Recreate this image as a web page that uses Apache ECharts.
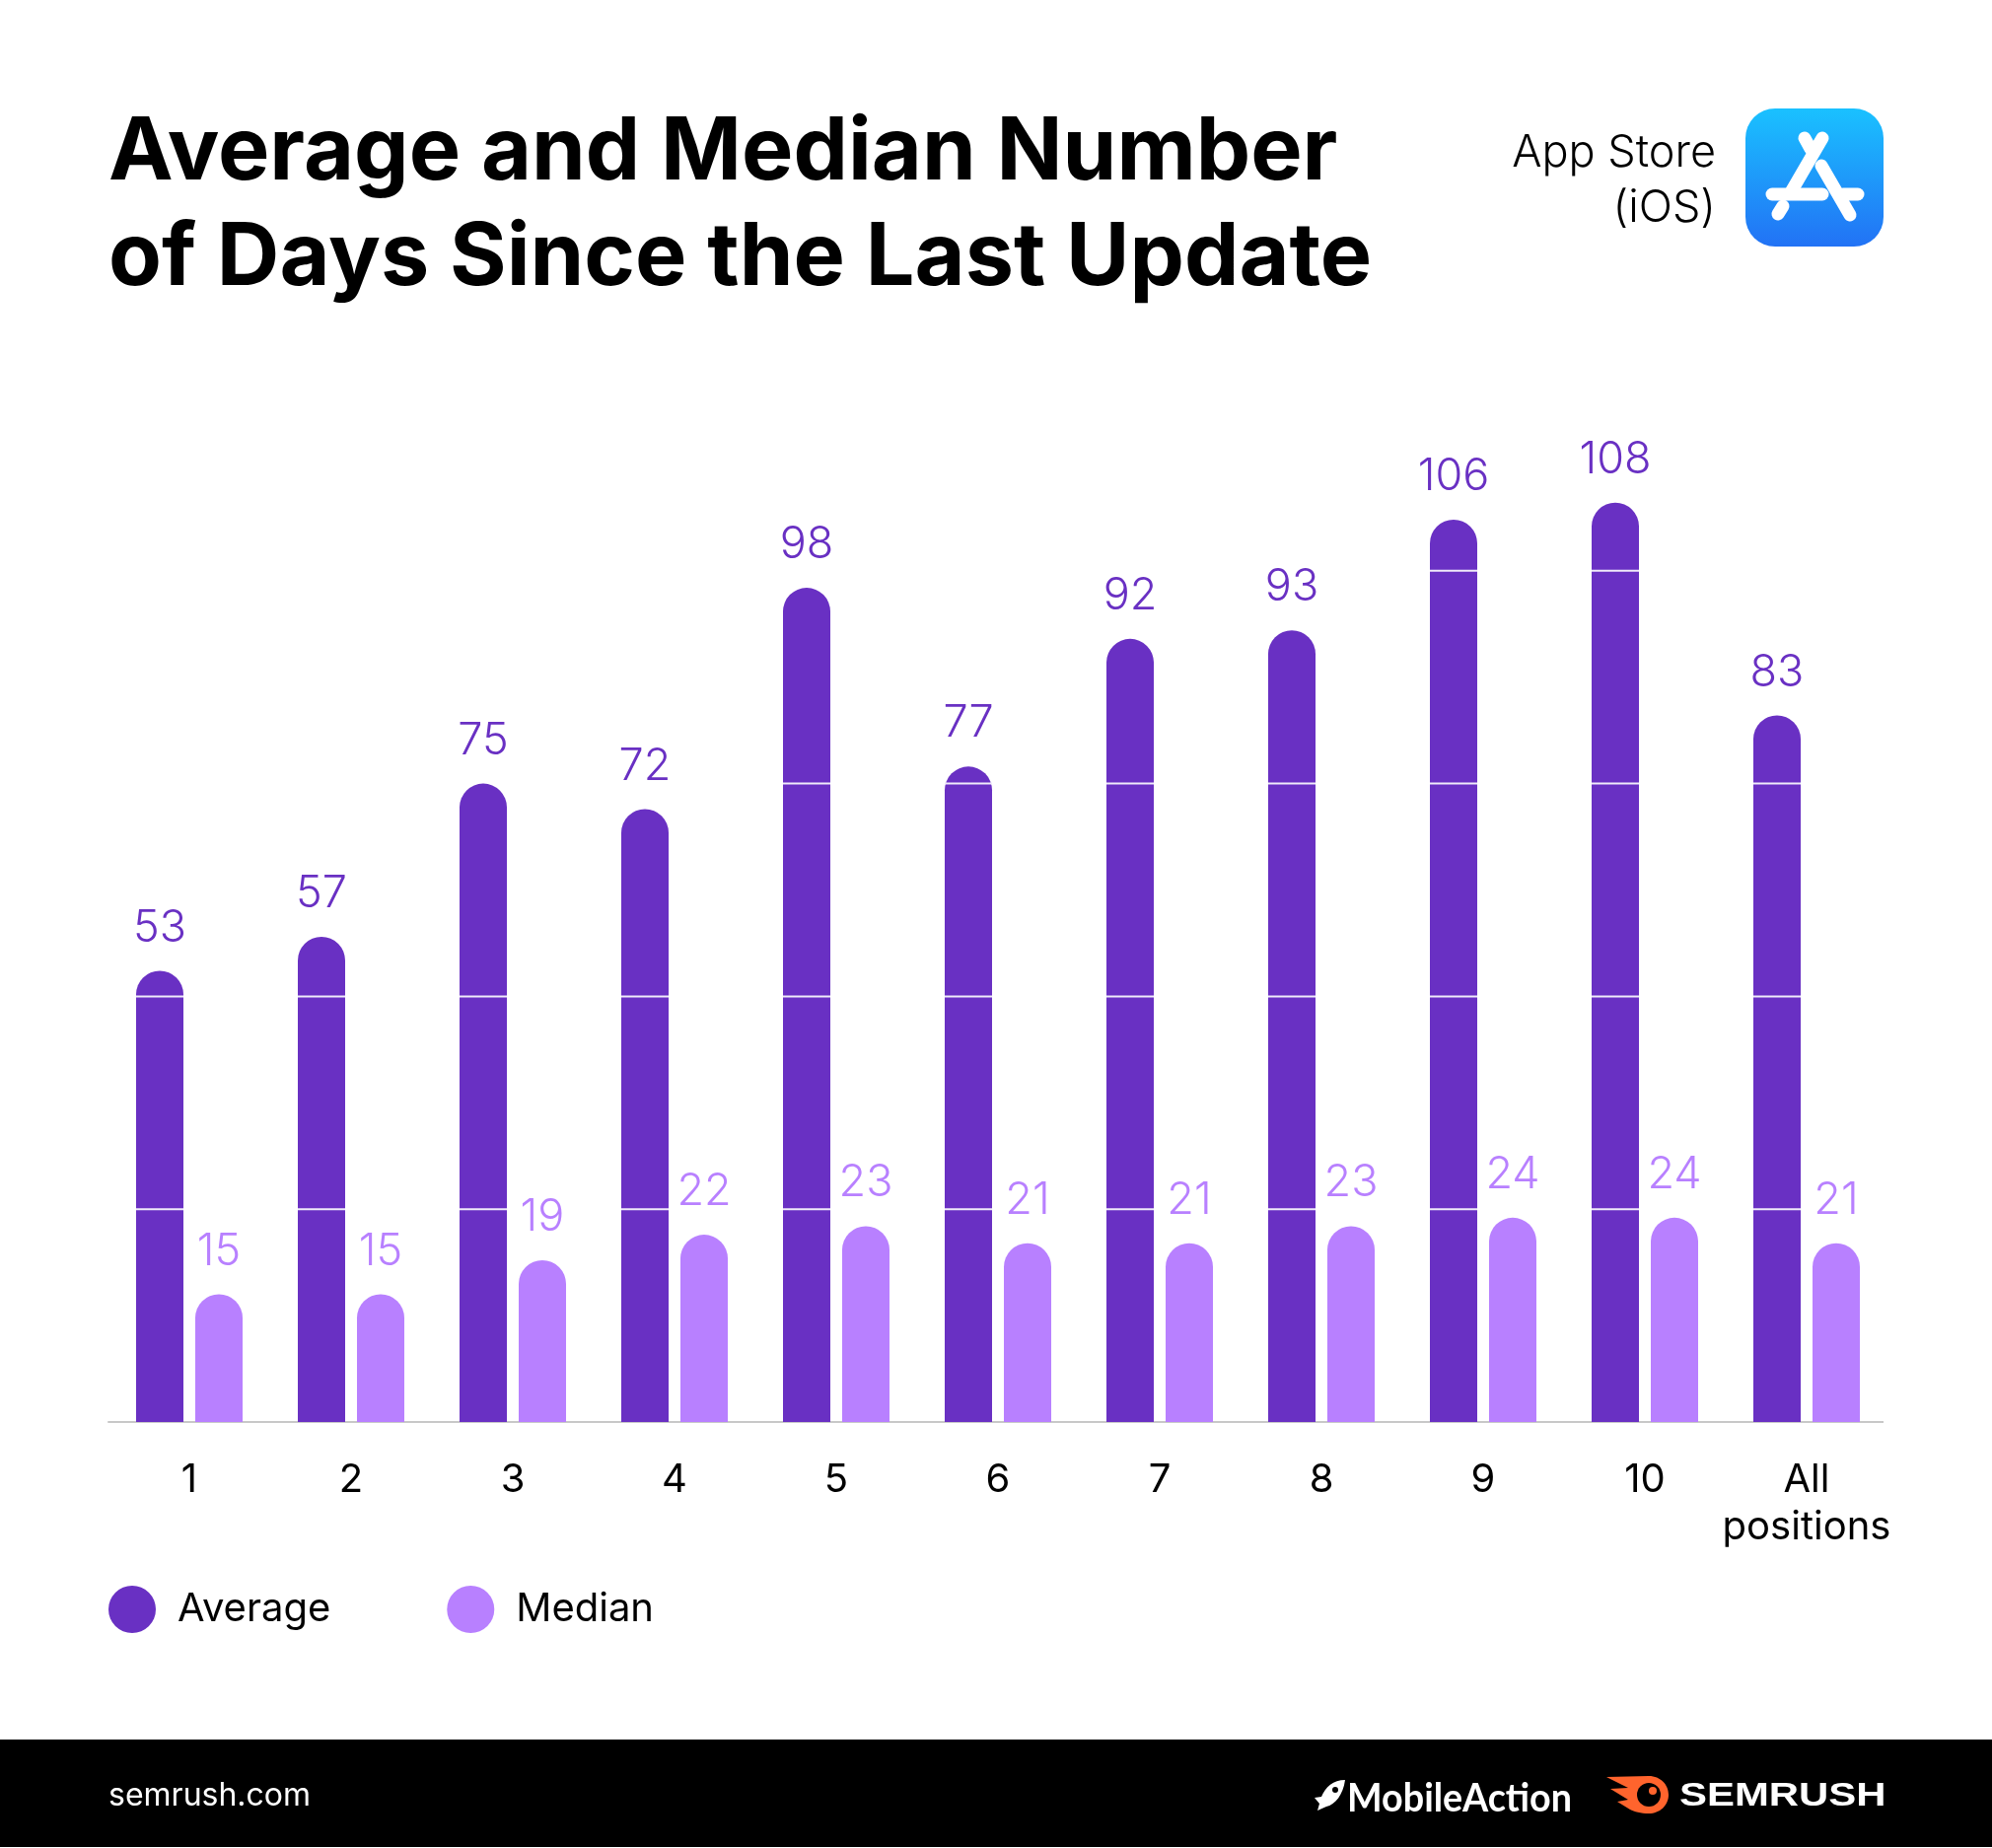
<!DOCTYPE html>
<html>
<head>
<meta charset="UTF-8">
<title>Average and Median Number of Days Since the Last Update</title>
<script src="https://cdn.jsdelivr.net/npm/echarts@6/dist/echarts.min.js"></script>
<style>
  html, body { margin: 0; padding: 0; background: #fff; }
  #main { width: 2020px; height: 1874px; }
</style>
</head>
<body>
<div id="main"></div>
<script>
// data
var categories = ['1', '2', '3', '4', '5', '6', '7', '8', '9', '10', 'All\npositions'];
var averageDays = [53, 57, 75, 72, 98, 77, 92, 93, 106, 108, 83];
var medianDays = [15, 15, 19, 22, 23, 21, 21, 23, 24, 24, 21];
var gridValues = [25, 50, 75, 100];

var PURPLE = '#6930c3';
var LILAC = '#b880ff';
var FONT = 'Inter, "Noto Sans", sans-serif';

// logo outlines, graphic has no plain "path" type so register them
echarts.graphic.registerShape('rocketLogo', echarts.graphic.extendPath(
    'M1364 1805 C1352 1805 1344 1812 1340 1822 L1333 1823 L1338 1829 L1336 1836 L1345 1832 C1354 1830 1362 1820 1364 1805 Z'
));
echarts.graphic.registerShape('flameLogo', echarts.graphic.extendPath(
    'M1629 1802 L1672 1801 C1684 1801 1692 1810 1692 1820 C1692 1831 1683 1839 1672 1839 C1664 1839 1657 1837 1653 1835 L1640 1827 L1651 1825 L1633 1814 L1651 1813 Z'
));

// white hairlines that only cross the Average bars
function renderBarLines(params, api) {
    var idx = api.value(0);
    var val = api.value(1);
    var children = [];
    for (var i = 0; i < gridValues.length; i++) {
        if (gridValues[i] >= val) continue;
        var p = api.coord([idx, gridValues[i]]);
        children.push({
            type: 'rect',
            shape: { x: p[0] - 54, y: p[1] - 1, width: 48, height: 2 },
            style: { fill: '#f0eafa' }
        });
    }
    return { type: 'group', children: children };
}

// icon strokes, in page pixels
function iconStroke(x1, y1, x2, y2) {
    return {
        type: 'line',
        shape: { x1: x1, y1: y1, x2: x2, y2: y2 },
        style: { stroke: '#fff', lineWidth: 13, lineCap: 'round' },
        z: 11
    };
}

var chart = echarts.init(document.getElementById('main'));
chart.setOption({
    animation: false,
    backgroundColor: '#fff',
    title: {
        text: 'Average and Median Number\nof Days Since the Last Update',
        left: 105,
        top: 97,
        textStyle: { fontFamily: FONT, fontSize: 88, fontWeight: 700, color: '#000', lineHeight: 107 }
    },
    legend: {
        left: 110,
        top: 1608,
        padding: 0,
        data: ['Average', 'Median'],
        icon: 'circle',
        itemWidth: 48,
        itemHeight: 48,
        itemGap: 118,
        textStyle: { fontFamily: FONT, fontSize: 40, color: '#000', padding: [0, 0, 0, 17] }
    },
    grid: { left: 110, top: 363, width: 1804, height: 1079 },
    xAxis: {
        type: 'category',
        data: categories,
        axisTick: { show: false },
        axisLine: { lineStyle: { color: '#c8c8c8', width: 2 } },
        axisLabel: { interval: 0, margin: 35, fontFamily: FONT, fontSize: 40, lineHeight: 48, color: '#000' }
    },
    yAxis: {
        type: 'value',
        min: 0,
        max: 125,
        interval: 25,
        show: false
    },
    series: [
        {
            name: 'Average',
            type: 'bar',
            data: averageDays,
            barWidth: 48,
            barGap: '25%',
            itemStyle: { color: PURPLE, borderRadius: [24, 24, 0, 0] },
            label: { show: true, position: 'top', distance: 21, fontFamily: FONT, fontSize: 45, fontWeight: 300, color: PURPLE }
        },
        {
            name: 'Median',
            type: 'bar',
            data: medianDays,
            barWidth: 48,
            itemStyle: { color: LILAC, borderRadius: [24, 24, 0, 0] },
            label: { show: true, position: 'top', distance: 21, fontFamily: FONT, fontSize: 45, fontWeight: 300, color: LILAC }
        },
        {
            type: 'custom',
            name: 'lines',
            silent: true,
            z: 4,
            renderItem: renderBarLines,
            encode: { x: 0, y: 1 },
            data: averageDays.map(function (v, i) { return [i, v]; })
        }
    ],
    graphic: [
        // axis stops a little short of the last band
        { type: 'rect', z: 10, shape: { x: 1910, y: 1438, width: 8, height: 8 }, style: { fill: '#fff' } },
        // header text
        {
            type: 'text', x: 1740, y: 155, z: 10,
            style: { text: 'App Store', align: 'right', verticalAlign: 'middle', fontFamily: FONT, fontSize: 45, fontWeight: 300, fill: '#000' }
        },
        {
            type: 'text', x: 1740, y: 211, z: 10,
            style: { text: '(iOS)', align: 'right', verticalAlign: 'middle', fontFamily: FONT, fontSize: 45, fontWeight: 300, fill: '#000' }
        },
        // app store icon
        {
            type: 'rect', z: 10,
            shape: { x: 1770, y: 110, width: 140, height: 140, r: 30 },
            style: {
                fill: new echarts.graphic.LinearGradient(0, 0, 0, 1, [
                    { offset: 0, color: '#1ac1ff' },
                    { offset: 1, color: '#2272f5' }
                ])
            }
        },
        iconStroke(1848, 140, 1816, 195),
        iconStroke(1830, 140, 1836, 151),
        iconStroke(1847, 168, 1876, 218),
        iconStroke(1797, 197, 1848, 197),
        iconStroke(1869, 197, 1884, 197),
        iconStroke(1803, 217, 1808, 209),
        // footer band
        { type: 'rect', z: 10, shape: { x: 0, y: 1764, width: 2020, height: 109 }, style: { fill: '#000' } },
        {
            type: 'text', x: 110, y: 1821, z: 11,
            style: { text: 'semrush.com', verticalAlign: 'middle', fontFamily: FONT, fontSize: 32, fill: '#fff' }
        },
        // MobileAction logo
        { type: 'rocketLogo', z: 11, shape: {}, style: { fill: '#fff' } },
        { type: 'circle', z: 12, shape: { cx: 1354, cy: 1815, r: 3 }, style: { fill: '#000' } },
        {
            type: 'text', x: 1366, y: 1824, scaleX: 0.92, z: 11,
            style: { text: 'MobileAction', verticalAlign: 'middle', fontFamily: '"Lato", sans-serif', fontWeight: 700, fontSize: 41, fill: '#fff' }
        },
        // Semrush logo
        { type: 'flameLogo', z: 11, shape: {}, style: { fill: '#ff642d' } },
        { type: 'circle', z: 12, shape: { cx: 1672, cy: 1820, r: 12 }, style: { fill: '#000' } },
        { type: 'circle', z: 13, shape: { cx: 1676, cy: 1816, r: 4 }, style: { fill: '#ff642d' } },
        {
            type: 'text', x: 1703, y: 1822, scaleX: 1.27, z: 11,
            style: { text: 'SEMRUSH', verticalAlign: 'middle', fontFamily: '"Liberation Sans", sans-serif', fontWeight: 700, fontSize: 33, fill: '#fff' }
        }
    ]
});
</script>
</body>
</html>
